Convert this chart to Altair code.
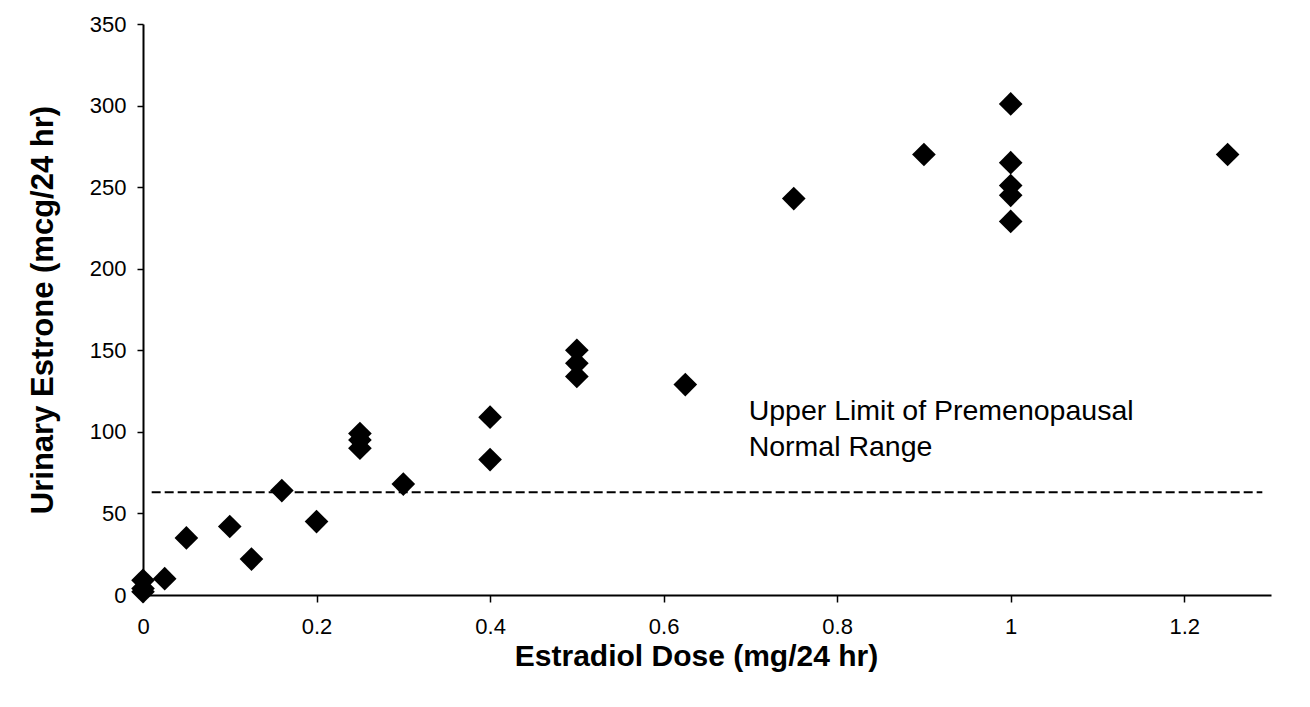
import altair as alt
import pandas as pd

# --- data ---
dose = [0, 0, 0, 0.025, 0.05, 0.1, 0.125, 0.16, 0.2, 0.25, 0.25, 0.25, 0.3,
        0.4, 0.4, 0.5, 0.5, 0.5, 0.625, 0.75, 0.9, 1.0, 1.0, 1.0, 1.0, 1.0, 1.25]
estrone = [9, 4, 2, 10, 35, 42, 22, 64, 45, 99, 95, 90, 68,
           109, 83, 150, 142, 134, 129, 243, 270, 301, 265, 251, 245, 229, 270]

limit_dose = [0.01, 1.29]
limit_estrone = [63, 63]

note_text = ["Upper Limit of Premenopausal\nNormal Range"]
note_dose = [0.698]
note_estrone = [107]

x_ticks = [0, 0.2, 0.4, 0.6, 0.8, 1.0, 1.2]
y_ticks = [0, 50, 100, 150, 200, 250, 300, 350]

x_title = "Estradiol Dose (mg/24 hr)"
y_title = "Urinary Estrone (mcg/24 hr)"

pts = pd.DataFrame({"dose": dose, "estrone": estrone})
lim = pd.DataFrame({"dose": limit_dose, "estrone": limit_estrone})
note = pd.DataFrame({"dose": note_dose, "estrone": note_estrone, "label": note_text})

FONT = "Liberation Sans, Arial, sans-serif"

xscale = alt.Scale(domain=[0, 1.3], nice=False, zero=False)
yscale = alt.Scale(domain=[0, 350], nice=False, zero=False)

xaxis = alt.Axis(
    values=x_ticks, format="~g", title=x_title, grid=False,
    domainColor="black", domainWidth=2, tickColor="black", tickWidth=1.5,
    tickSize=7, labelFont=FONT, labelFontSize=22, labelColor="black",
    labelPadding=14, labelFlush=False, labelOverlap=False,
    titleFont=FONT, titleFontSize=30, titleFontWeight="bold", titleColor="black",
    titleX=553, titleY=70, titleBaseline="alphabetic", titleAlign="center",
)
yaxis = alt.Axis(
    values=y_ticks, title=y_title, grid=False,
    domainColor="black", domainWidth=2, tickColor="black", tickWidth=1.5,
    tickSize=6, labelFont=FONT, labelFontSize=22, labelColor="black",
    labelPadding=11, labelFlush=False, labelOverlap=False,
    titleFont=FONT, titleFontSize=31, titleFontWeight="bold", titleColor="black",
    titleX=-91, titleY=285.5, titleBaseline="alphabetic", titleAlign="center",
    titleAngle=270,
)

points = alt.Chart(pts).mark_point(
    shape="diamond", filled=True, size=560, color="black", opacity=1
).encode(
    x=alt.X("dose:Q", scale=xscale, axis=xaxis),
    y=alt.Y("estrone:Q", scale=yscale, axis=yaxis),
)

line = alt.Chart(lim).mark_line(
    color="black", strokeWidth=2, strokeDash=[9, 4]
).encode(
    x=alt.X("dose:Q", scale=xscale, axis=xaxis),
    y=alt.Y("estrone:Q", scale=yscale, axis=yaxis),
)

text = alt.Chart(note).mark_text(
    align="left", baseline="alphabetic", font=FONT, fontSize=28.5,
    lineHeight=36, lineBreak="\n", color="black"
).encode(
    x=alt.X("dose:Q", scale=xscale, axis=xaxis),
    y=alt.Y("estrone:Q", scale=yscale, axis=yaxis),
    text="label:N",
)

chart = alt.layer(line, points, text).properties(
    width=1128, height=571,
    autosize=alt.AutoSizeParams(type="none"),
    padding={"left": 135, "top": 16, "right": 20, "bottom": 100},
    background="white",
).configure_view(stroke=None)

chart.save("out.html", embed_options={"renderer": "svg", "actions": False})
